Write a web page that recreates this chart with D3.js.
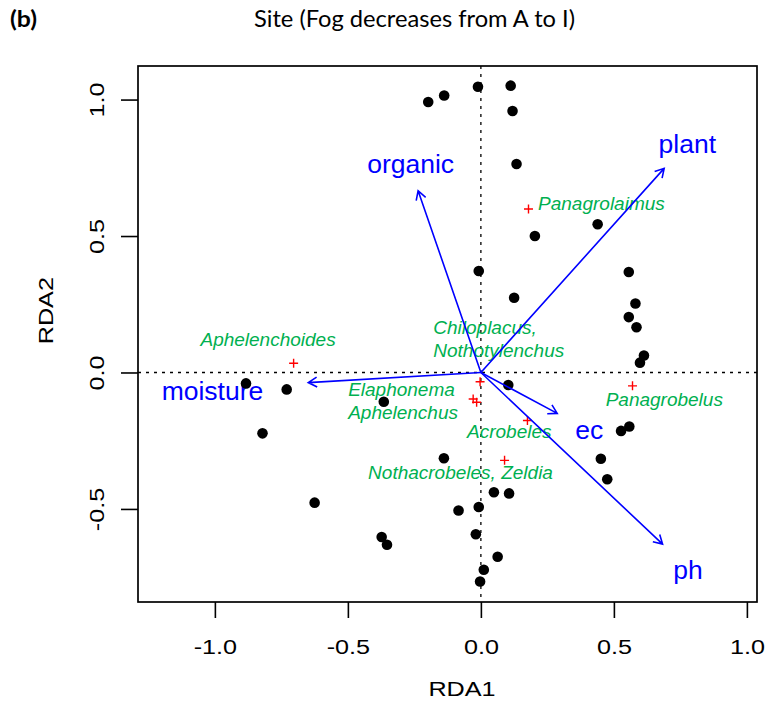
<!DOCTYPE html>
<html>
<head>
<meta charset="utf-8">
<script src="https://cdnjs.cloudflare.com/ajax/libs/d3/7.8.5/d3.min.js"></script>
<style>
  html, body { margin: 0; padding: 0; background: #fff; }
  svg { display: block; }
</style>
</head>
<body>
<div id="chart"></div>
<script>
// RDA biplot - sites, species and environmental arrows

// site scores (black dots)
var siteX = [-0.198, -0.138, -0.011, 0.112, 0.119, 0.134, 0.439, 0.203, -0.008, 0.556,
             0.581, 0.125, 0.556, 0.585, 0.613, 0.598, 0.103, 0.558, 0.527, 0.451,
             0.475, 0.049, 0.106, -0.008, -0.019, 0.063, 0.011, -0.003, -0.883, -0.730,
             -0.365, -0.821, -0.139, -0.625, -0.084, -0.373, -0.353];
var siteY = [0.991, 1.015, 1.047, 1.051, 0.958, 0.764, 0.543, 0.500, 0.372, 0.368,
             0.253, 0.274, 0.203, 0.166, 0.062, 0.036, -0.046, -0.198, -0.214, -0.316,
             -0.391, -0.439, -0.443, -0.493, -0.593, -0.675, -0.723, -0.766, -0.040, -0.062,
             -0.107, -0.223, -0.314, -0.477, -0.506, -0.603, -0.631];

// species scores (red crosses)
var sppX = [0.179, -0.704, -0.003, -0.029, -0.016, 0.175, 0.089, 0.570];
var sppY = [0.599, 0.034, -0.034, -0.097, -0.109, -0.176, -0.322, -0.049];

// species labels and where they sit (data units)
var sppLabels = [["Panagrolaimus"], ["Aphelenchoides"], ["Chiloplacus,", "Nothotylenchus"],
                 ["Elaphonema", "Aphelenchus"], ["Acrobeles"], ["Nothacrobeles, Zeldia"], ["Panagrobelus"]];
var sppLabelX = [0.215, -0.800, -0.179, -0.499, -0.052, -0.424, 0.469];
var sppLabelY = [0.620, 0.123, 0.168, -0.060, -0.213, -0.366, -0.097];
var sppLabelAnchor = ["start", "middle", "start", "start", "start", "start", "start"];

// environmental variables (blue arrows)
var envNames = ["organic", "plant", "moisture", "ec", "ph"];
var envX = [-0.236, 0.689, -0.649, 0.287, 0.683];
var envY = [0.666, 0.748, -0.037, -0.150, -0.629];
var envLabelX = [-0.264, 0.776, -1.009, 0.407, 0.779];
var envLabelY = [0.764, 0.840, -0.067, -0.208, -0.721];

// axis ticks
var xTicks = [-1.0, -0.5, 0.0, 0.5, 1.0];
var yTicks = [-0.5, 0.0, 0.5, 1.0];

var width = 767, height = 702;
var box = {left: 138, right: 757, top: 66, bottom: 602};
var axisFont = "'Liberation Sans', Arial, Helvetica, sans-serif";

var svg = d3.select('#chart').append('svg')
    .attr('width', width)
    .attr('height', height);

var x = d3.scaleLinear().domain([-1.289, 1.038]).range([box.left, box.right]);
var y = d3.scaleLinear().domain([-0.841, 1.123]).range([box.bottom, box.top]);

// plain hyphen minus like R does
var fmt = function(d) { return d.toFixed(1); };

// panel tag and title
svg.append('text')
    .attr('x', 10).attr('y', 27)
    .attr('textLength', 27)
    .attr('lengthAdjust', 'spacingAndGlyphs')
    .style('font-family', "Lato, 'Open Sans', sans-serif")
    .style('font-weight', 'bold')
    .style('font-size', '22px')
    .text('(b)');

svg.append('text')
    .attr('x', 414.5).attr('y', 27)
    .attr('text-anchor', 'middle')
    .attr('textLength', 321)
    .attr('lengthAdjust', 'spacingAndGlyphs')
    .style('font-family', "Lato, 'Open Sans', sans-serif")
    .style('font-size', '23px')
    .text('Site (Fog decreases from A to I)');

// zero lines
svg.append('line')
    .attr('x1', x(0)).attr('x2', x(0))
    .attr('y1', box.top).attr('y2', box.bottom)
    .attr('stroke', '#000').attr('stroke-width', 1.3)
    .attr('stroke-dasharray', '3,5');
svg.append('line')
    .attr('x1', box.left).attr('x2', box.right)
    .attr('y1', y(0)).attr('y2', y(0))
    .attr('stroke', '#000').attr('stroke-width', 1.3)
    .attr('stroke-dasharray', '3,5');

// axes
var xAxis = svg.append('g')
    .attr('transform', 'translate(0,' + box.bottom + ')')
    .call(d3.axisBottom(x).tickValues(xTicks).tickSize(16).tickSizeOuter(0).tickFormat(fmt));
var yAxis = svg.append('g')
    .attr('transform', 'translate(' + box.left + ',0)')
    .call(d3.axisLeft(y).tickValues(yTicks).tickSize(17).tickSizeOuter(0).tickFormat(fmt));

[xAxis, yAxis].forEach(function(g) {
    g.select('.domain').remove();
    g.selectAll('.tick line').attr('stroke', '#000').attr('stroke-width', 1.6);
    g.selectAll('.tick text')
        .attr('fill', '#000')
        .style('font-family', axisFont)
        .style('font-size', '21px');
});

// tick labels are a bit wide in the original, stretch them
xAxis.selectAll('.tick text')
    .attr('y', null).attr('dy', null)
    .attr('text-anchor', 'middle')
    .attr('transform', 'translate(0,52) scale(1.2,1)');
yAxis.selectAll('.tick text')
    .attr('x', null).attr('dy', null)
    .attr('text-anchor', 'middle')
    .attr('transform', 'translate(-34,0) rotate(-90) scale(1.2,1)');

// frame
svg.append('rect')
    .attr('x', box.left).attr('y', box.top)
    .attr('width', box.right - box.left).attr('height', box.bottom - box.top)
    .attr('fill', 'none').attr('stroke', '#000').attr('stroke-width', 1.7);

// axis titles
svg.append('text')
    .attr('transform', 'translate(462,696) scale(1.2,1)')
    .attr('text-anchor', 'middle')
    .style('font-family', axisFont).style('font-size', '21px')
    .text('RDA1');
svg.append('text')
    .attr('transform', 'translate(52.5,310.7) rotate(-90) scale(1.2,1)')
    .attr('text-anchor', 'middle')
    .style('font-family', axisFont).style('font-size', '21px')
    .text('RDA2');

// species labels (green italic)
var sppText = svg.append('g').selectAll('text')
    .data(sppLabels)
    .enter().append('text')
    .attr('x', function(d, i) { return x(sppLabelX[i]); })
    .attr('y', function(d, i) { return y(sppLabelY[i]) + 7; })
    .attr('text-anchor', function(d, i) { return sppLabelAnchor[i]; })
    .attr('fill', '#00b050')
    .style('font-family', axisFont)
    .style('font-style', 'italic')
    .style('font-size', '19px');
sppText.each(function(lines, i) {
    var t = d3.select(this);
    lines.forEach(function(line, k) {
        t.append('tspan')
            .attr('x', x(sppLabelX[i]))
            .attr('dy', k === 0 ? 0 : 23.3)
            .text(line);
    });
});

// env labels (blue)
svg.append('g').selectAll('text')
    .data(envNames)
    .enter().append('text')
    .attr('x', function(d, i) { return x(envLabelX[i]); })
    .attr('y', function(d, i) { return y(envLabelY[i]) + 9.5; })
    .attr('text-anchor', 'middle')
    .attr('fill', '#0000ff')
    .style('font-family', axisFont)
    .style('font-size', '26.5px')
    .text(function(d) { return d; });

// species crosses
var cross = 4.5;
svg.append('g').selectAll('path')
    .data(sppX)
    .enter().append('path')
    .attr('d', function(d, i) {
        var cx = x(sppX[i]), cy = y(sppY[i]);
        return 'M' + (cx - cross) + ',' + cy + 'H' + (cx + cross) +
               'M' + cx + ',' + (cy - cross) + 'V' + (cy + cross);
    })
    .attr('stroke', '#ff0000')
    .attr('stroke-width', 1.4)
    .attr('fill', 'none');

// site points
svg.append('g').selectAll('circle')
    .data(siteX)
    .enter().append('circle')
    .attr('cx', function(d, i) { return x(siteX[i]); })
    .attr('cy', function(d, i) { return y(siteY[i]); })
    .attr('r', 5.3)
    .attr('fill', '#000');

// arrows
var headLen = 10, headAng = Math.PI / 6;
svg.append('g').selectAll('path')
    .data(envNames)
    .enter().append('path')
    .attr('d', function(d, i) {
        var x0 = x(0), y0 = y(0), x1 = x(envX[i]), y1 = y(envY[i]);
        var a = Math.atan2(y1 - y0, x1 - x0);
        var p = 'M' + x0 + ',' + y0 + 'L' + x1 + ',' + y1;
        p += 'M' + (x1 - headLen * Math.cos(a - headAng)) + ',' + (y1 - headLen * Math.sin(a - headAng));
        p += 'L' + x1 + ',' + y1;
        p += 'L' + (x1 - headLen * Math.cos(a + headAng)) + ',' + (y1 - headLen * Math.sin(a + headAng));
        return p;
    })
    .attr('stroke', '#0000ff')
    .attr('stroke-width', 1.6)
    .attr('fill', 'none');

console.log('biplot drawn:', siteX.length, 'sites');
</script>
</body>
</html>
